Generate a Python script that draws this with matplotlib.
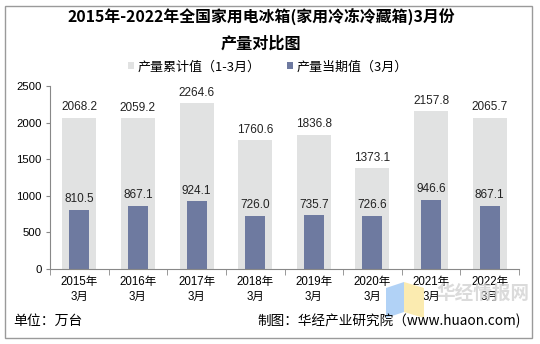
import matplotlib
matplotlib.use("Agg")
import matplotlib.pyplot as plt
from matplotlib.patches import Rectangle, Polygon
import numpy as np

plt.rcParams['font.family'] = ['Noto Sans CJK SC', 'DejaVu Sans']

categories = ["2015年\n3月", "2016年\n3月", "2017年\n3月", "2018年\n3月",
              "2019年\n3月", "2020年\n3月", "2021年\n3月", "2022年\n3月"]
cumulative = [2068.2, 2059.2, 2264.6, 1760.6, 1836.8, 1373.1, 2157.8, 2065.7]
current = [810.5, 867.1, 924.1, 726.0, 735.7, 726.6, 946.6, 867.1]
yticks = [0, 500, 1000, 1500, 2000, 2500]

gray = "#e1e2e2"
dark = "#6e7aa0"
num_font = ["Liberation Sans", "Noto Sans CJK SC"]

fig = plt.figure(figsize=(5.4, 3.44), dpi=100)
fig.patches.append(Rectangle((5/540, 6/344), 527/540, 332/344, transform=fig.transFigure,
                             fill=False, edgecolor="#9a9a9a", linewidth=1.0))

# faint watermark logo
fig.patches.append(Polygon([(386/540, 1-288/344), (404/540, 1-282/344), (404/540, 1-312/344),
                            (386/540, 1-318/344)], closed=True, transform=fig.transFigure,
                           facecolor="#a9cdf5", edgecolor="none", alpha=0.9, zorder=0))
fig.patches.append(Polygon([(404/540, 1-282/344), (424/540, 1-288/344), (424/540, 1-318/344),
                            (404/540, 1-312/344)], closed=True, transform=fig.transFigure,
                           facecolor="#fbe9a8", edgecolor="none", alpha=0.9, zorder=0))

ax = fig.add_axes([50/540, 1-269/344, 469/540, 183/344])
ax.patch.set_alpha(0)
x = np.arange(len(categories))
ax.bar(x, cumulative, width=0.58, color=gray, zorder=1, label="产量累计值（1-3月）")
ax.bar(x, current, width=0.34, color=dark, zorder=2, label="产量当期值（3月）")

for xi, v in zip(x, cumulative):
    ax.text(xi, v + 60, f"{v:.1f}", ha="center", va="bottom", fontsize=8.5,
            family=num_font, color="#222222")
for xi, v in zip(x, current):
    ax.text(xi, v + 60, f"{v:.1f}", ha="center", va="bottom", fontsize=8.5,
            family=num_font, color="#222222")

ax.set_xlim(-0.5, len(categories) - 0.5)
ax.set_ylim(0, 2500)
ax.set_yticks(yticks)
ax.set_yticklabels([str(t) for t in yticks], fontsize=8.2, family=num_font)
ax.set_xticks(x)
ax.set_xticklabels(categories, fontsize=8.3, linespacing=1.35, family=num_font)
ax.set_xticks(np.arange(-0.5, len(categories)), minor=True)
ax.tick_params(axis="x", which="major", length=0, pad=5)
ax.tick_params(axis="x", which="minor", length=4, color="#888888", direction="out")
ax.tick_params(axis="y", length=3, color="#888888", pad=3)
for s in ["top", "right"]:
    ax.spines[s].set_visible(False)
for s in ["left", "bottom"]:
    ax.spines[s].set_color("#888888")
    ax.spines[s].set_linewidth(0.8)

fig.text(261/540, 1-17/344, "2015年-2022年全国家用电冰箱(家用冷冻冷藏箱)3月份", ha="center", va="center",
         fontsize=11.4, fontweight="bold")
fig.text(261/540, 1-44/344, "产量对比图", ha="center", va="center", fontsize=11.6, fontweight="bold")

leg = fig.legend(loc="center", bbox_to_anchor=(268/540, 1-67/344), ncol=2, frameon=False,
                 fontsize=9.4, handlelength=0.45, handleheight=0.45, columnspacing=2.0,
                 handletextpad=0.3)

fig.text(13/540, 1-321/344, "单位：万台", ha="left", va="center", fontsize=10)
fig.text(521/540, 1-321/344, "制图：华经产业研究院（www.huaon.com)", ha="right", va="center",
         fontsize=9.8)
fig.text(483/540, 1-293/344, "华经情报网", ha="center", va="center", fontsize=13.4,
         color="#d2d2d2", alpha=0.8, fontweight="bold", zorder=0)

fig.savefig("out.png", dpi=100)
